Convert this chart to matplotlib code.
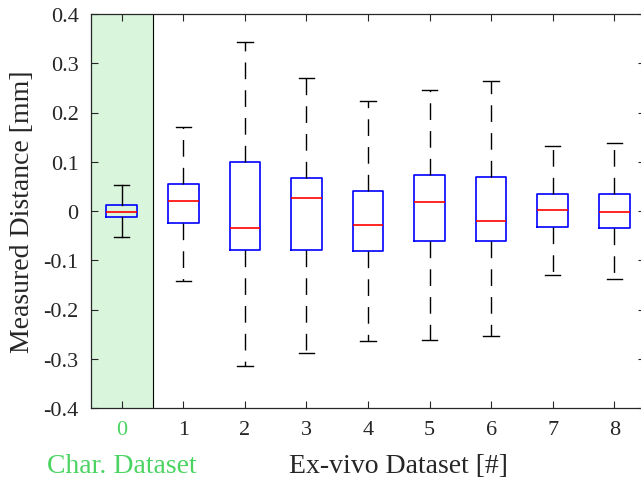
import matplotlib
matplotlib.use("Agg")
import matplotlib.pyplot as plt

plt.rcParams["font.family"] = ["Liberation Serif", "DejaVu Serif"]

datasets = [0, 1, 2, 3, 4, 5, 6, 7, 8]
whisker_hi = [0.052, 0.170, 0.343, 0.270, 0.224, 0.246, 0.264, 0.132, 0.138]
q3 = [0.012, 0.055, 0.100, 0.066, 0.041, 0.074, 0.070, 0.034, 0.035]
median = [-0.002, 0.020, -0.035, 0.026, -0.028, 0.018, -0.021, 0.003, -0.003]
q1 = [-0.013, -0.024, -0.080, -0.080, -0.082, -0.060, -0.060, -0.032, -0.035]
whisker_lo = [-0.053, -0.142, -0.315, -0.288, -0.263, -0.261, -0.254, -0.129, -0.138]

GREEN = "#4cd463"
TEXT = "#262626"

fig = plt.figure(figsize=(6.41, 4.81), dpi=100)
ax = fig.add_axes([91 / 641, (481 - 409) / 481, (645 - 91) / 641, (409 - 15) / 481])

ax.axvspan(-0.5, 0.5, color="#d9f5dc", zorder=0)
ax.axvline(0.5, color="black", lw=0.8, zorder=1)

stats = [
    {"whislo": lo, "q1": a, "med": m, "q3": b, "whishi": hi, "fliers": []}
    for lo, a, m, b, hi in zip(whisker_lo, q1, median, q3, whisker_hi)
]

# characterisation set: solid whiskers
ax.bxp(stats[:1], positions=datasets[:1], widths=0.5, capwidths=0.25,
       boxprops=dict(color="blue", lw=1.2),
       medianprops=dict(color="red", lw=1.2),
       whiskerprops=dict(color="black", lw=1.0, ls="-"),
       capprops=dict(color="black", lw=1.0), manage_ticks=False)
# ex-vivo sets: dashed whiskers
ax.bxp(stats[1:], positions=datasets[1:], widths=0.5, capwidths=0.25,
       boxprops=dict(color="blue", lw=1.2),
       medianprops=dict(color="red", lw=1.2),
       whiskerprops=dict(color="black", lw=1.0, ls=(0, (12, 8))),
       capprops=dict(color="black", lw=1.0, ls="-"), manage_ticks=False)

ax.set_xlim(-0.5, 8.5)
ax.set_ylim(-0.4, 0.4)
ax.set_xticks(datasets)
ax.set_xticklabels([str(d) for d in datasets])
ax.set_yticks([-0.4, -0.3, -0.2, -0.1, 0, 0.1, 0.2, 0.3, 0.4])
ax.set_yticklabels(["-0.4", "-0.3", "-0.2", "-0.1", "0", "0.1", "0.2", "0.3", "0.4"])
ax.tick_params(direction="in", length=5, width=0.8, top=True, right=True,
               labelsize=16, colors=TEXT, pad=9)
ax.get_xticklabels()[0].set_color(GREEN)
for s in ax.spines.values():
    s.set_color(TEXT)
    s.set_linewidth(0.9)

ax.set_ylabel("Measured Distance [mm]", fontsize=20, color=TEXT, labelpad=6)
ax.text(4.5, -0.516, "Ex-vivo Dataset [#]", ha="center", va="center",
        fontsize=20, color=TEXT, clip_on=False)
ax.text(0, -0.516, "Char. Dataset", ha="center", va="center",
        fontsize=20, color=GREEN, clip_on=False)

fig.savefig("out.png", dpi=100)
